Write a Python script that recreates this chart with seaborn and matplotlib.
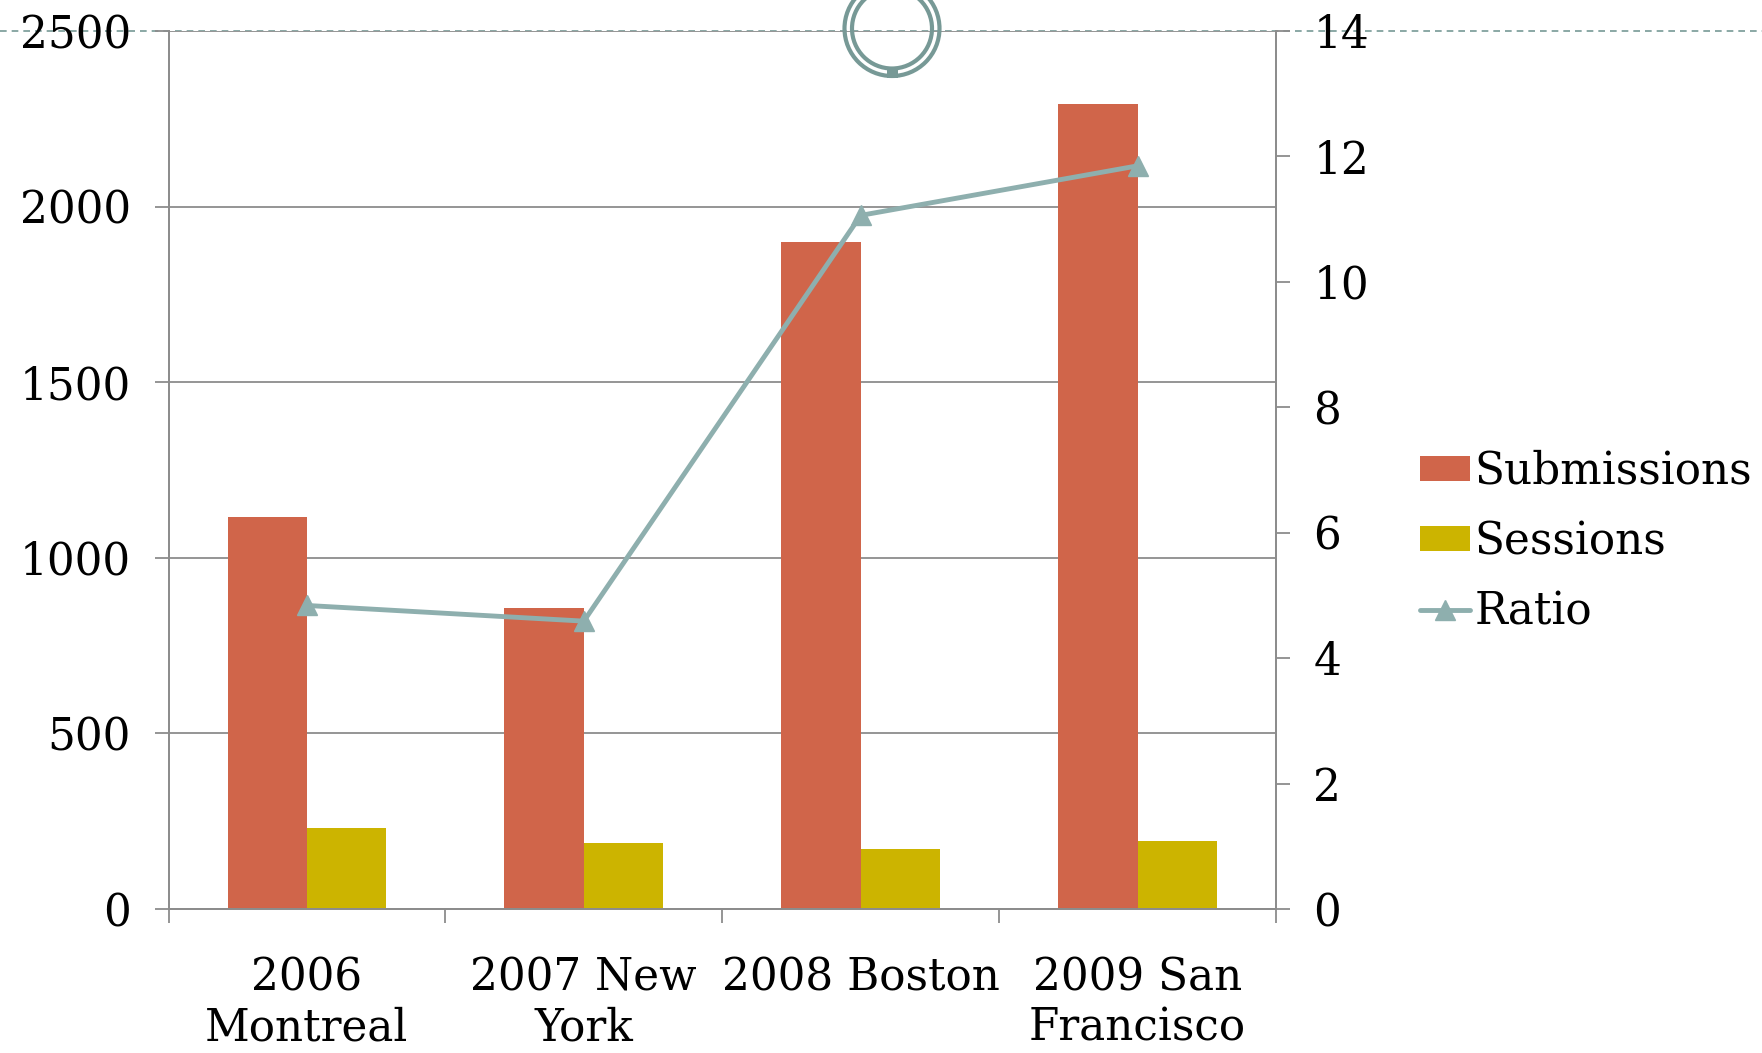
import numpy as np
import pandas as pd
import matplotlib.pyplot as plt
from matplotlib.patches import Ellipse, Rectangle
from matplotlib.lines import Line2D
import seaborn as sns

# --- data ---
conferences = ["2006\nMontreal", "2007 New\nYork", "2008 Boston", "2009 San\nFrancisco"]
submissions = [1117, 858, 1898, 2292]
sessions = [232, 187, 171, 193]
ratio = [4.84, 4.59, 11.06, 11.85]

c_sub = "#D0654A"
c_ses = "#CCB400"
c_ratio = "#8EAFAE"
c_deco = "#779996"
c_grid = "#8C8C8C"

df = pd.DataFrame({
    "conf": conferences * 2,
    "value": submissions + sessions,
    "series": ["Submissions"] * 4 + ["Sessions"] * 4,
})

sns.set_style("white")
plt.rcParams["font.family"] = ["DejaVu Serif"]
plt.rcParams["text.color"] = "black"
plt.rcParams["xtick.color"] = "black"
plt.rcParams["ytick.color"] = "black"
fs = 31.5

fig = plt.figure(figsize=(17.62, 10.53), dpi=100)
ax = fig.add_axes([168.5 / 1762, 1 - 909 / 1053, (1276 - 168.5) / 1762, (909 - 31) / 1053])

sns.barplot(data=df, x="conf", y="value", hue="series",
            palette=[c_sub, c_ses], saturation=1, width=0.573, gap=0,
            edgecolor="none", ax=ax)
handles, labels = ax.get_legend_handles_labels()
ax.get_legend().remove()

ax.set_ylim(0, 2500)
ax.set_yticks(np.arange(0, 2501, 500))
ax.set_xlim(-0.5, 3.5)
ax.set_xlabel("")
ax.set_ylabel("")
ax.grid(axis="y", color=c_grid, linewidth=1.3)
ax.set_axisbelow(True)

# x ticks at category boundaries, labels at centres
ax.set_xticks(np.arange(-0.5, 4, 1))
ax.set_xticklabels([])
ax.set_xticks(np.arange(len(conferences)), minor=True)
ax.set_xticklabels(conferences, minor=True, fontsize=fs, linespacing=1.2)
ax.tick_params(axis="x", which="major", direction="out", length=10, width=1.3,
               color=c_grid, bottom=True)
ax.tick_params(axis="x", which="minor", length=0, pad=34)
ax.tick_params(axis="y", direction="out", length=10, width=1.3, color=c_grid,
               left=True, labelsize=fs, pad=17)

for s in ["left", "bottom", "right"]:
    ax.spines[s].set_color(c_grid)
    ax.spines[s].set_linewidth(1.3)
ax.spines["top"].set_visible(False)

# ratio on a second axis
ax2 = ax.twinx()
ax2.plot(np.arange(len(ratio)), ratio, color=c_ratio, linewidth=3.5,
         marker="^", markersize=14, label="Ratio")
ax2.set_ylim(0, 14)
ax2.set_yticks(np.arange(0, 15, 2))
ax2.tick_params(axis="y", direction="out", length=10, width=1.3, color=c_grid,
                right=True, labelsize=fs, pad=17)
for s in ["left", "bottom", "right"]:
    ax2.spines[s].set_color(c_grid)
    ax2.spines[s].set_linewidth(1.3)
ax2.spines["top"].set_visible(False)
ax2.grid(False)

h2, l2 = ax2.get_legend_handles_labels()
fig.legend(handles + h2, labels + l2, loc="center left",
           bbox_to_anchor=(1420 / 1762, 1 - 541.5 / 1053),
           bbox_transform=fig.transFigure, frameon=False, fontsize=fs,
           borderpad=0, borderaxespad=0, handlelength=1.15, handleheight=0.5,
           handletextpad=0.1, labelspacing=0.62)

# slide decoration: dashed rule and double ring at the top
fig.add_artist(Line2D([0, 1], [1 - 31 / 1053] * 2, transform=fig.transFigure,
                      color=c_deco, linewidth=1.2, linestyle=(0, (4, 3)), zorder=-1))
cx, cy = 892 / 1762, 1 - 28.5 / 1053
for r in [47.5, 40]:
    fig.add_artist(Ellipse((cx, cy), 2 * r / 1762, 2 * r / 1053, fill=False,
                           edgecolor=c_deco, linewidth=3, transform=fig.transFigure,
                           zorder=5))
fig.add_artist(Rectangle((887 / 1762, 1 - 78 / 1053), 11 / 1762, 10 / 1053,
                         facecolor=c_deco, edgecolor="none",
                         transform=fig.transFigure, zorder=5))

fig.savefig("out.png", dpi=100)
